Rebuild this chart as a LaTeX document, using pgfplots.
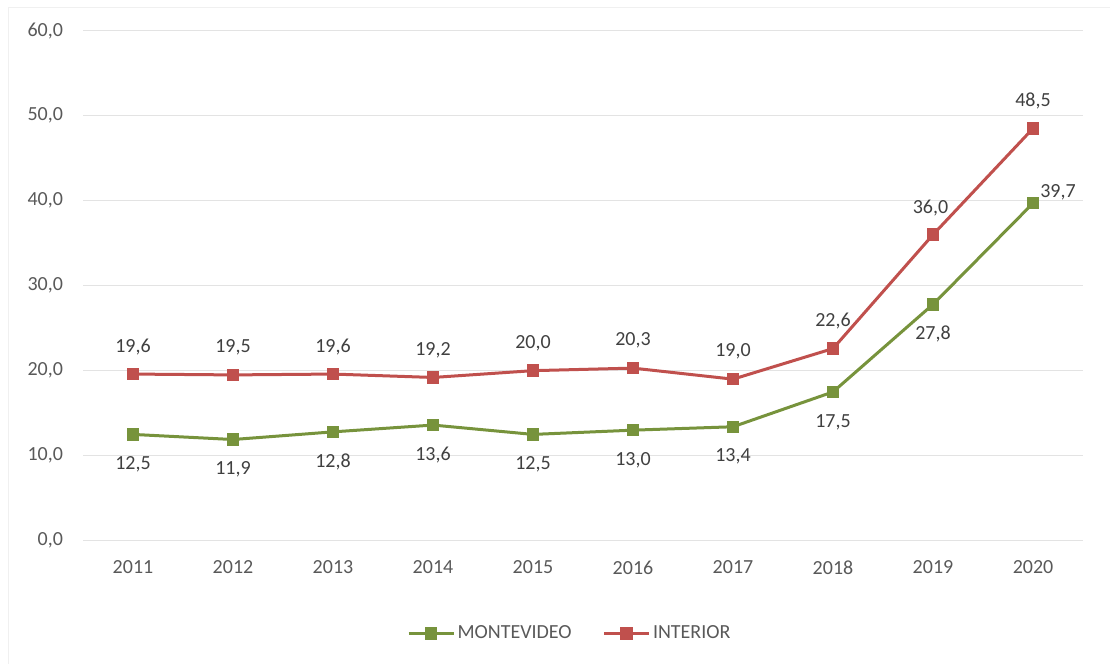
\documentclass[border=0pt]{standalone}
\usepackage{pgfplots}
\pgfplotsset{compat=1.18}
\usepackage{fontspec}
\setmainfont{Carlito}

\definecolor{mvgreen}{HTML}{77933C}
\definecolor{intred}{HTML}{C0504D}
\definecolor{gridgray}{HTML}{E3E3E3}
\definecolor{ticktext}{HTML}{595959}
\definecolor{labeltext}{HTML}{404040}

% value, label offsets (pt)
\pgfplotstableread{
x  y     dx   dy
0  12.5  0    -18
1  11.9  0    -18
2  12.8  0    -18
3  13.6  0    -18
4  12.5  0    -18
5  13.0  0    -18
6  13.4  0    -18
7  17.5  0    -18
8  27.8  0    -18
9  39.7  15   6.5
}\montevideo

\pgfplotstableread{
x  y     dx   dy
0  19.6  0    16.5
1  19.5  0    16.5
2  19.6  0    16.5
3  19.2  0    16.5
4  20.0  0    16.5
5  20.3  0    16.5
6  19.0  0    16.5
7  22.6  0    16.5
8  36.0  -1.5 16
9  48.5  0    16.5
}\interior

\begin{document}
\begin{tikzpicture}
\useasboundingbox (0,0) rectangle (666pt,398.4pt);
\draw[gray!12, line width=0.6pt] (4.8pt,0) -- (4.8pt,393.6pt) -- (666pt,393.6pt);
\begin{axis}[
    at={(49.8pt,74pt)},
    anchor=south west,
    scale only axis,
    width=600pt,
    height=306pt,
    xmin=-0.5, xmax=9.5,
    ymin=0, ymax=60,
    xtick=data,
    xticklabels={2011,2012,2013,2014,2015,2016,2017,2018,2019,2020},
    ytick={0,10,20,30,40,50,60},
    ymajorgrids,
    grid style={gridgray, line width=0.7pt},
    axis line style={draw=none},
    major tick style={draw=none},
    axis x line*=bottom,
    extra y ticks={0},
    extra y tick labels={},
    extra y tick style={grid style={gridgray, line width=0.9pt}},
    ticklabel style={font=\fontsize{12}{14}\selectfont, text=ticktext},
    yticklabel style={xshift=-8.5pt},
    xticklabel style={anchor=center, yshift=-16pt},
    /pgf/number format/.cd, use comma, fixed, fixed zerofill, precision=1, assume math mode=true,
    /pgfplots/.cd,
    clip=false,
    nodes near coords={\pgfmathprintnumber[use comma, fixed, fixed zerofill, precision=1, assume math mode=true]{\pgfplotspointmeta}},
    point meta=y,
    visualization depends on={\thisrow{dx} \as \dx},
    visualization depends on={\thisrow{dy} \as \dy},
    every node near coord/.append style={anchor=center, xshift=\dx pt, yshift=\dy pt,
        font=\fontsize{12}{14}\selectfont, text=labeltext, inner sep=0pt},
    legend style={at={(0.487,-0.182)}, anchor=center, draw=none, fill=none,
        legend columns=2, font=\fontsize{12}{14}\selectfont, text=ticktext,
        /tikz/every even column/.append style={column sep=17pt},
        nodes={inner sep=1.5pt}},
    legend image code/.code={
        \draw[#1, mark repeat=2, mark phase=2] plot coordinates {(0pt,0pt) (13.5pt,0pt) (27pt,0pt)};
    },
]
\addplot[mvgreen, line width=1.8pt, mark=square*, mark size=3.4pt,
    mark options={solid, fill=mvgreen, line width=0pt}] table[x=x, y=y] {\montevideo};
\addlegendentry{MONTEVIDEO}
\addplot[intred, line width=1.8pt, mark=square*, mark size=3.4pt,
    mark options={solid, fill=intred, line width=0pt}] table[x=x, y=y] {\interior};
\addlegendentry{INTERIOR}
\end{axis}
\end{tikzpicture}
\end{document}
